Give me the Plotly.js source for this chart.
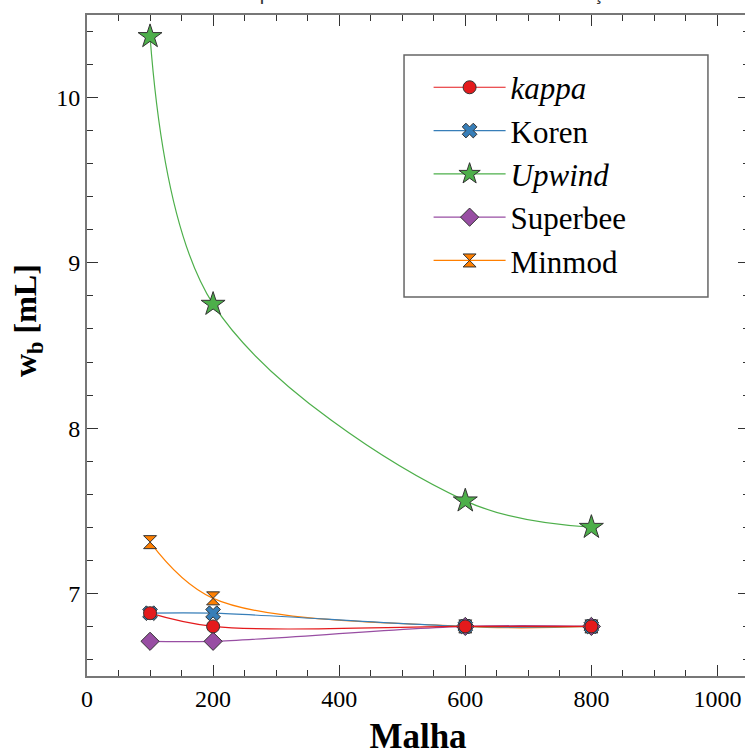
<!DOCTYPE html>
<html>
<head>
<meta charset="utf-8">
<script src="https://cdn.plot.ly/plotly-3.0.1.min.js"></script>
<style>html,body{margin:0;padding:0;overflow:hidden;background:#fff;}</style>
</head>
<body>
<div id="chart" style="width:750px;height:756px;"></div>
<script>
const malha = [100, 200, 600, 800];
const kappa = [6.88, 6.80, 6.80, 6.80];
const koren = [6.88, 6.88, 6.80, 6.80];
const upwind = [10.37, 8.75, 7.56, 7.40];
const superbee = [6.71, 6.71, 6.80, 6.80];
const minmod = [7.31, 6.97, 6.80, 6.80];
const seriesNames = ['<i>kappa</i>', 'Koren', '<i>Upwind</i>', 'Superbee', 'Minmod'];
const xTickVals = [0, 200, 400, 600, 800, 1000];
const yTickVals = [7, 8, 9, 10];

const serif = 'Liberation Serif';
const outline = {color: '#333333', width: 1};

function tr(name, y, color, symbol, size, rank) {
  return {
    x: malha, y: y, name: name, type: 'scatter', mode: 'lines+markers',
    line: {color: color, width: 1.2, shape: 'spline', smoothing: 1},
    marker: {symbol: symbol, size: size, color: color, line: outline},
    legendrank: rank
  };
}

const data = [
  tr(seriesNames[4], minmod, '#ff7f00', 'hourglass', 13, 5),
  tr(seriesNames[3], superbee, '#984ea3', 'diamond', 14, 4),
  tr(seriesNames[2], upwind, '#4daf4a', 'star', 18, 3),
  tr(seriesNames[1], koren, '#377eb8', 'x', 13, 2),
  tr(seriesNames[0], kappa, '#e41a1c', 'circle', 13, 1)
];

function ax(extra) {
  return Object.assign({
    showline: true, linecolor: '#777777', linewidth: 2, mirror: 'ticks',
    ticks: 'inside', ticklen: 11, tickwidth: 1, tickcolor: '#333333',
    showgrid: false, zeroline: false,
    tickfont: {family: serif, size: 24, color: '#000'}
  }, extra);
}

const layout = {
  width: 750, height: 756,
  margin: {l: 87, r: 1, t: 15, b: 80},
  paper_bgcolor: '#fff', plot_bgcolor: '#fff',
  font: {family: serif, color: '#000'},
  showlegend: true,
  xaxis: ax({
    range: [0, 1050], tickvals: xTickVals,
    minor: {dtick: 50, tick0: 0, ticks: 'inside', ticklen: 6, tickcolor: '#333333', tickwidth: 1},
    title: {text: 'Malha', font: {family: serif, size: 35, weight: 'bold', color: '#000'}, standoff: 24}
  }),
  yaxis: ax({
    range: [6.5, 10.5], tickvals: yTickVals,
    minor: {dtick: 0.2, tick0: 6.6, ticks: 'inside', ticklen: 6, tickcolor: '#333333', tickwidth: 1}
  }),
  legend: {
    x: 0.516, xanchor: 'left', y: 0.931, yanchor: 'top',
    bgcolor: 'rgba(0,0,0,0)', borderwidth: 0,
    font: {family: serif, size: 31, color: '#000'},
    itemwidth: 72, tracegroupgap: 0
  },
  shapes: [{
    type: 'rect', xref: 'paper', yref: 'paper',
    x0: 0.4789, x1: 0.938, y0: 0.5734, y1: 0.9395,
    line: {color: '#666666', width: 1.5}
  }],
  annotations: [
    {
      text: 'w<sub>b</sub> [mL]', xref: 'paper', yref: 'paper',
      x: 0, xshift: -60, y: 0.537, xanchor: 'center', yanchor: 'middle',
      textangle: -90, showarrow: false,
      font: {family: serif, size: 32, weight: 'bold', color: '#000'}
    },
    {
      text: 'Estudo da malha para diferentes métodos de discretização da fase',
      xref: 'paper', yref: 'paper', x: 0.473, y: 1, yshift: 22,
      xanchor: 'center', yanchor: 'middle', showarrow: false,
      font: {family: 'Liberation Sans', size: 20, color: '#333'}
    }
  ]
};

Plotly.newPlot('chart', data, layout, {displayModeBar: false, staticPlot: true});
</script>
</body>
</html>
